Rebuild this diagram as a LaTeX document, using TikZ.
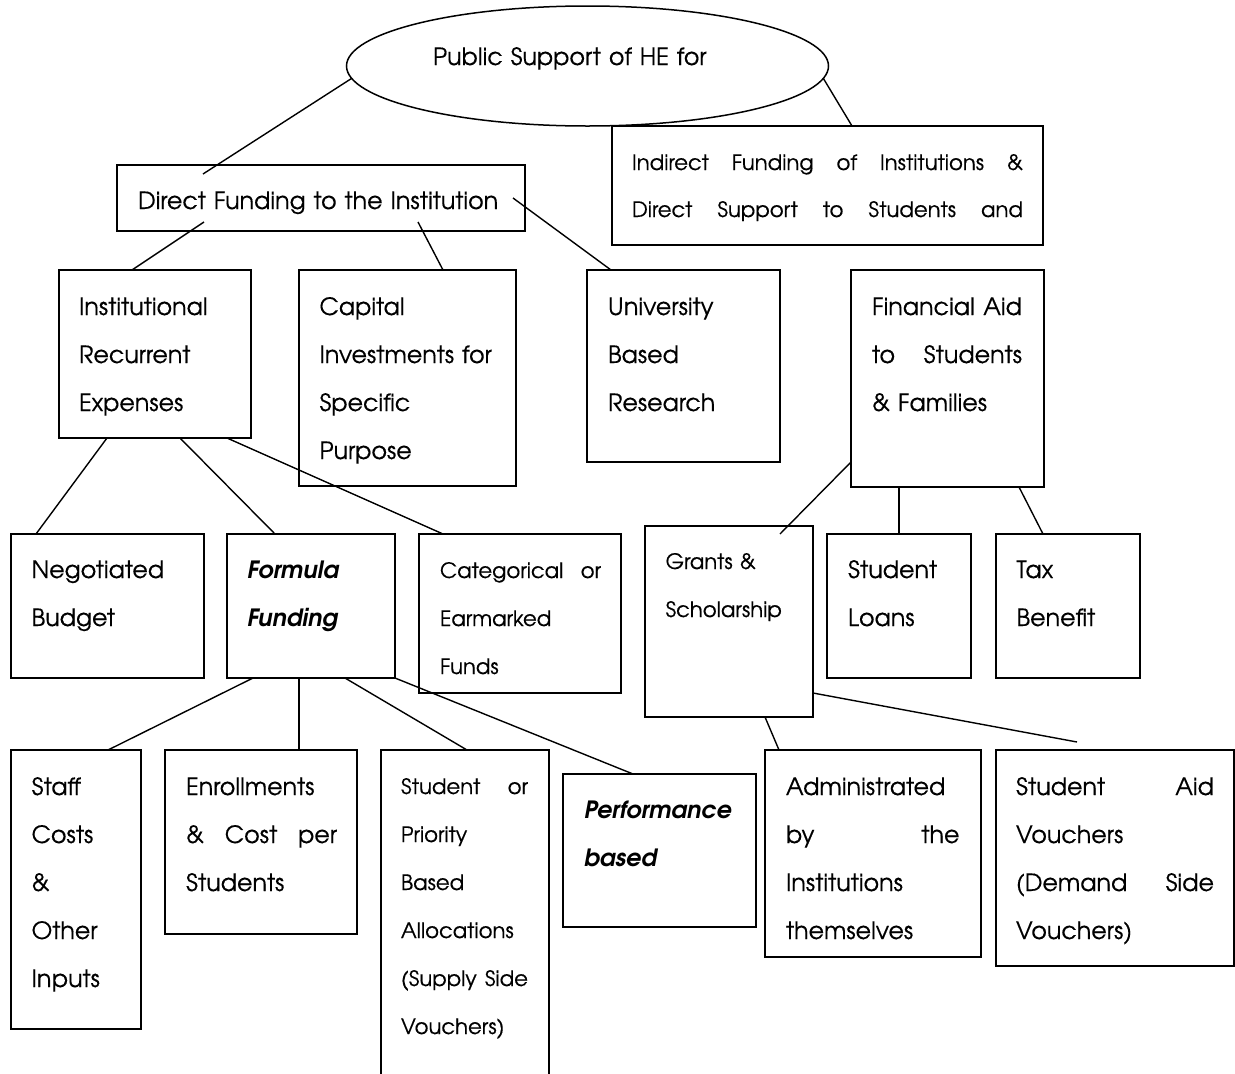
\documentclass[tikz,border=0pt]{standalone}
\usepackage{fontspec}
\setmainfont{texgyreadventor}[Extension=.otf, UprightFont=*-regular, BoldFont=*-bold, ItalicFont=*-italic, BoldItalicFont=*-bolditalic, UprightFeatures={FakeBold=0.4}]
\usetikzlibrary{shapes.geometric,calc}

\begin{document}
\begin{tikzpicture}[x=1pt,y=-1pt,
  box/.style={draw, line width=1.5pt, anchor=north west, inner sep=0pt, outer sep=0pt},
  oval/.style={draw, ellipse, line width=1.5pt, inner sep=0pt, outer sep=0pt},
  link/.style={line width=1.4pt},
  big/.style={font=\fontsize{23.8}{48}\selectfont},
  small/.style={font=\fontsize{21.2}{48}\selectfont},
  txt/.style={anchor=base west, inner sep=0pt, outer sep=0pt, align=left, text width=300pt},
]
\path[use as bounding box, clip] (0,0) rectangle (1235,1074);
\fill[white] (0,0) rectangle (1235,1074);

% ---- top level ----
\node[oval, minimum width=482, minimum height=120] (pub) at (587.5,66) {};
\node[txt, big] (pub-t) at (433,65) {Public Support of HE for};

\node[box, minimum width=408, minimum height=66] (dfund) at (117,165) {};
\node[txt, big, text width=380pt] (dfund-t) at (138,209) {Direct Funding to the Institution};

\node[box, minimum width=431, minimum height=119] (indir) at (612,126) {};
\node[txt, small, text width=391pt, font=\fontsize{21.2}{47}\selectfont] (indir-t) at (632,170)
  {Indirect\hfill Funding\hfill of\hfill Institutions\hfill \&\\
   Direct\hfill Support\hfill to\hfill Students\hfill and};

% ---- second level ----
\node[box, minimum width=192, minimum height=168] (inst) at (59,270) {};
\node[txt, big] (inst-t) at (79,315) {Institutional\\Recurrent\\Expenses};

\node[box, minimum width=217, minimum height=216] (capital) at (299,270) {};
\node[txt, big] (capital-t) at (319.5,315) {Capital\\Investments for\\Specific\\Purpose};

\node[box, minimum width=193, minimum height=192] (univ) at (587,270) {};
\node[txt, big] (univ-t) at (608,315) {University\\Based\\Research};

\node[box, minimum width=193, minimum height=217] (finaid) at (851,270) {};
\node[txt, big, text width=150pt] (finaid-t) at (872,315)
  {Financial\hfill Aid\\to\hfill Students\\\& Families};

% ---- third level ----
\node[box, minimum width=193, minimum height=144] (nego) at (11,534) {};
\node[txt, big] (nego-t) at (31.6,578) {Negotiated\\Budget};

\node[box, minimum width=168, minimum height=144] (formula) at (227,534) {};
\node[txt, big, font=\fontsize{23.8}{48}\selectfont\bfseries\itshape] (formula-t) at (247,578) {Formula\\Funding};

\node[box, minimum width=202, minimum height=159] (categ) at (419,534) {};
\node[txt, small, text width=161pt] (categ-t) at (440,578) {Categorical\hfill or\\Earmarked\\Funds};

\node[box, minimum width=168, minimum height=191] (grants) at (645,526) {};
\node[txt, small] (grants-t) at (665.6,569) {Grants \&\\Scholarship};

\node[box, minimum width=144, minimum height=144] (loans) at (827,534) {};
\node[txt, big] (loans-t) at (848,578) {Student\\Loans};

\node[box, minimum width=144, minimum height=144] (tax) at (996,534) {};
\node[txt, big] (tax-t) at (1016.5,578) {Tax\\Benefit};

% ---- fourth level ----
\node[box, minimum width=130, minimum height=279] (staff) at (11,750) {};
\node[txt, big] (staff-t) at (31.6,795) {Staff\\Costs\\\&\\Other\\Inputs};

\node[box, minimum width=192, minimum height=184] (enrol) at (165,750) {};
\node[txt, big, text width=151pt] (enrol-t) at (186,795) {Enrollments\\\&\hfill Cost\hfill per\\Students};

\node[box, minimum width=168, minimum height=340] (prio) at (381,750) {};
\node[txt, small, text width=127pt] (prio-t) at (401,794)
  {Student\hfill or\\Priority\\Based\\Allocations\\(Supply\hfill Side\\Vouchers)};

\node[box, minimum width=193, minimum height=153] (perf) at (563,774) {};
\node[txt, big, font=\fontsize{23.8}{48}\selectfont\bfseries\itshape] (perf-t) at (584,818) {Performance\\based};

\node[box, minimum width=216, minimum height=207] (admin) at (765,750) {};
\node[txt, big, text width=173.5pt] (admin-t) at (786,795) {Administrated\\by\hfill the\\Institutions\\themselves};

\node[box, minimum width=238, minimum height=216] (aid) at (996,750) {};
\node[txt, big, text width=198pt] (aid-t) at (1016,795)
  {Student\hfill Aid\\Vouchers\\(Demand\hfill Side\\Vouchers)};

\coordinate (aidend) at (1077,742);

% ---- connectors ----
\draw[link] (pub.183) -- ($(dfund.north west)+(86,9)$);
\draw[link] (pub.-3) -- ($(indir.north west)+(240,0)$);

\draw[link] ($(dfund.south west)+(87,-9)$) -- ($(inst.north west)+(73,0)$);
\draw[link] ($(dfund.south west)+(301,-9)$) -- ($(capital.north west)+(144,0)$);
\draw[link] ($(dfund.north east)+(-12,33)$) -- ($(univ.north west)+(24,0)$);

\draw[link] ($(inst.south west)+(48,0)$) -- ($(nego.north west)+(25,0)$);
\draw[link] ($(inst.south west)+(121,0)$) -- ($(formula.north west)+(48,0)$);
\draw[link] ($(inst.south west)+(168,0)$) -- ($(categ.north west)+(24,0)$);

\draw[link] ($(finaid.south west)+(0,-25)$) -- ($(grants.north west)+(135,8)$);
\draw[link] ($(finaid.south west)+(48,0)$) -- ($(loans.north west)+(72,0)$);
\draw[link] ($(finaid.south west)+(168,0)$) -- ($(tax.north west)+(47,0)$);

\draw[link] ($(formula.south west)+(26,0)$) -- ($(staff.north west)+(97,0)$);
\draw[link] ($(formula.south west)+(72,0)$) -- ($(enrol.north west)+(134,0)$);
\draw[link] ($(formula.south west)+(118,0)$) -- ($(prio.north west)+(86,0)$);
\draw[link] (formula.south east) -- ($(perf.north west)+(70,0)$);

\draw[link] ($(grants.south west)+(120,0)$) -- ($(admin.north west)+(14,0)$);
\draw[link] ($(grants.south east)+(0,-24)$) -- (aidend);
\end{tikzpicture}
\end{document}
